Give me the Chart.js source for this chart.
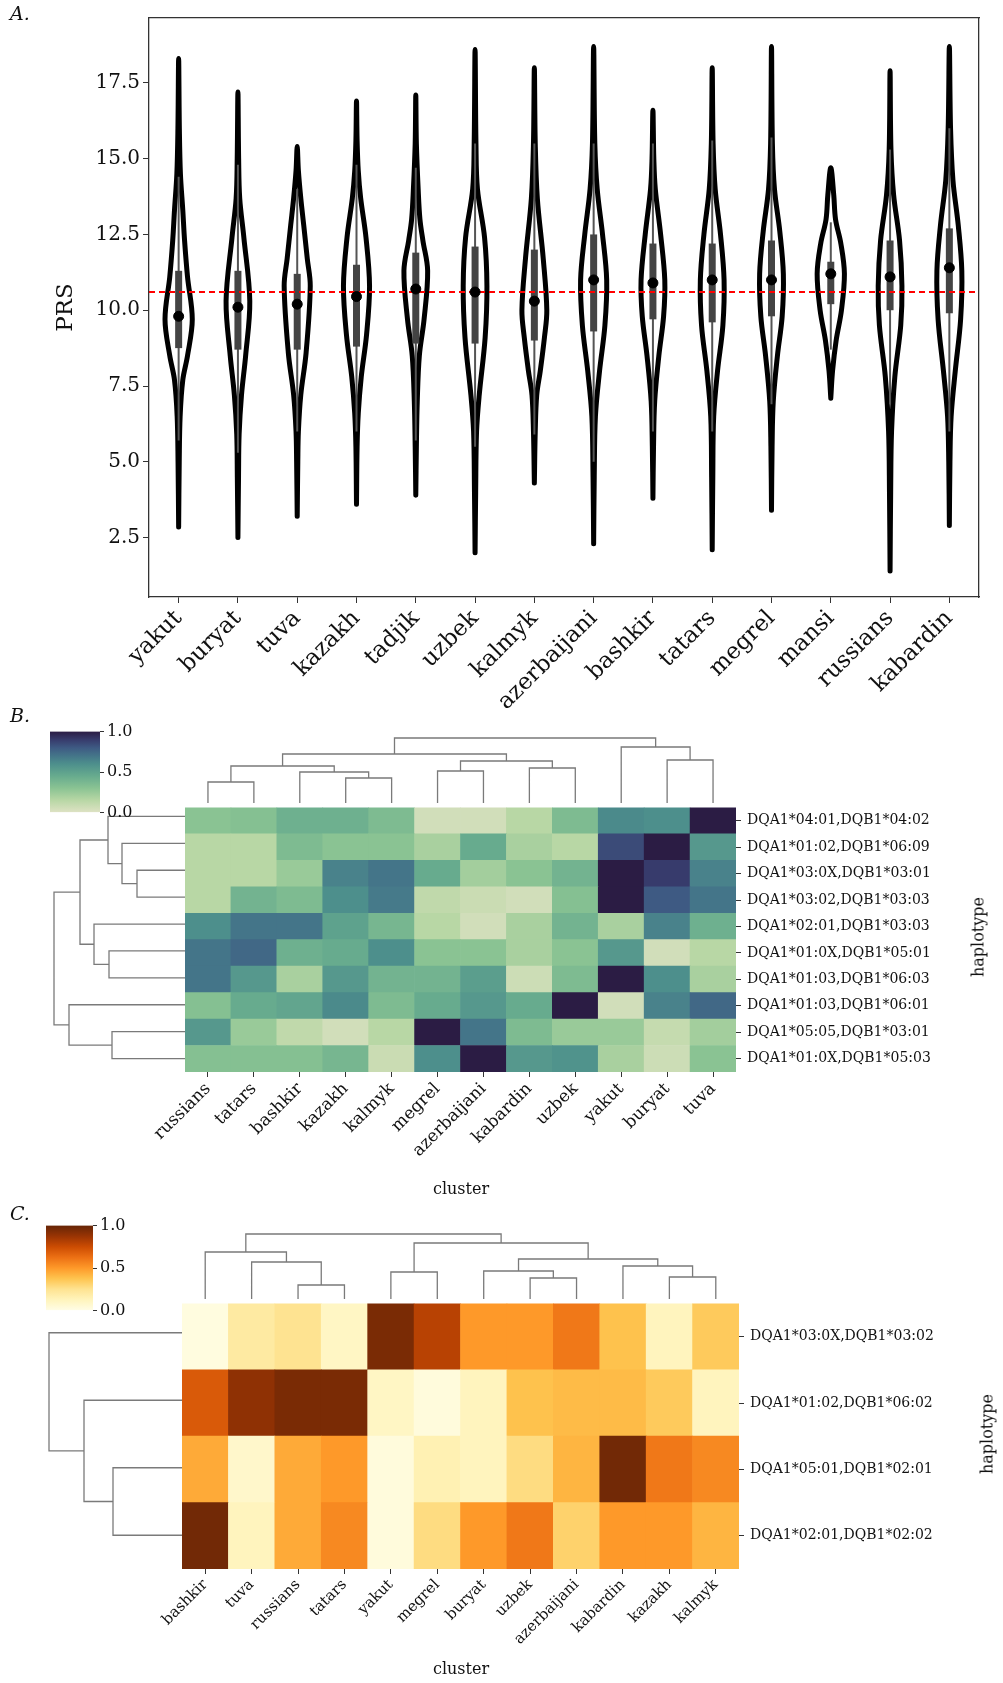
<!DOCTYPE html>
<html>
<head>
<meta charset="utf-8">
<script src="https://cdn.jsdelivr.net/npm/chart.js@4"></script>
<style>
  body { margin: 0; background: #fff; }
  #wrap { position: relative; width: 1003px; height: 1683px; font-family: 'DejaVu Serif', serif; }
  canvas, .txt { position: absolute; }
  .txt { color: #111; white-space: nowrap; }
  .panel { font-style: italic; font-size: 19px; }
</style>
</head>
<body>
<div id="wrap">
  <canvas id="violin" style="left:0;top:0;width:1003px;height:725px" width="1003" height="725"></canvas>

  <canvas id="heatB" style="left:0;top:793px;width:1003px;height:407px" width="1003" height="407"></canvas>
  <canvas id="dendroTopB" style="left:185px;top:733px;width:551px;height:70px" width="551" height="70"></canvas>
  <canvas id="dendroLeftB" style="left:50px;top:803px;width:135px;height:269px" width="135" height="269"></canvas>
  <canvas id="barB" style="left:50px;top:719px;width:100px;height:106px" width="100" height="106"></canvas>

  <canvas id="heatC" style="left:0;top:1289px;width:1003px;height:394px" width="1003" height="394"></canvas>
  <canvas id="dendroTopC" style="left:182px;top:1229px;width:557px;height:70px" width="557" height="70"></canvas>
  <canvas id="dendroLeftC" style="left:40px;top:1299px;width:142px;height:270px" width="142" height="270"></canvas>
  <canvas id="barC" style="left:46px;top:1213px;width:100px;height:110px" width="100" height="110"></canvas>

  <div class="txt panel" style="left:10px;top:2px">A.</div>
  <div class="txt panel" style="left:10px;top:704px">B.</div>
  <div class="txt panel" style="left:10px;top:1202px">C.</div>
  <div class="txt" style="left:978px;top:937px;font-size:16px;transform:translate(-50%,-50%) rotate(-90deg)">haplotype</div>
  <div class="txt" style="left:461px;top:1188px;font-size:16px;transform:translate(-50%,-50%)">cluster</div>
  <div class="txt" style="left:987px;top:1434px;font-size:16px;transform:translate(-50%,-50%) rotate(-90deg)">haplotype</div>
  <div class="txt" style="left:461px;top:1668px;font-size:16px;transform:translate(-50%,-50%)">cluster</div>
</div>
<script>
// ---------- Panel A data ----------
const groups = ['yakut', 'buryat', 'tuva', 'kazakh', 'tadjik', 'uzbek', 'kalmyk',
  'azerbaijani', 'bashkir', 'tatars', 'megrel', 'mansi', 'russians', 'kabardin'];

// violin profile: [PRS value, half width in category units]
const violinProfiles = [
  [[2.85,0],[5,0.01],[6.5,0.025],[7.7,0.07],[8.5,0.15],[9.7,0.23],[11.1,0.15],[12.3,0.1],[13.3,0.07],[14.5,0.03],[16,0.012],[18.3,0]],
  [[2.5,0],[4.5,0.01],[5.9,0.02],[7.2,0.06],[8.5,0.13],[10.3,0.2],[12.4,0.1],[13.7,0.03],[15,0.012],[17.2,0]],
  [[3.2,0],[5,0.01],[6,0.02],[7.2,0.06],[8.6,0.15],[10.8,0.22],[11.7,0.17],[12.8,0.11],[13.7,0.06],[14.6,0.02],[15.4,0]],
  [[3.6,0],[5.5,0.01],[6.6,0.03],[7.8,0.08],[9.2,0.17],[10.8,0.22],[12.4,0.16],[13.7,0.07],[14.6,0.03],[15.6,0.01],[16.9,0]],
  [[3.9,0],[5.5,0.01],[7,0.025],[8.5,0.06],[9.7,0.14],[11.3,0.2],[12.3,0.12],[13,0.07],[14,0.04],[15.5,0.01],[17.1,0]],
  [[2.0,0],[4,0.01],[6,0.025],[7.2,0.07],[9.1,0.17],[10.8,0.2],[12.4,0.16],[14,0.04],[15.5,0.015],[18.6,0]],
  [[4.3,0],[6,0.015],[7.2,0.04],[8,0.1],[9.1,0.17],[10,0.21],[11.7,0.15],[13.7,0.05],[15.5,0.015],[18.0,0]],
  [[2.3,0],[4.5,0.01],[6.5,0.03],[8,0.1],[9.5,0.19],[11,0.22],[12.5,0.15],[14,0.06],[15.5,0.02],[18.7,0]],
  [[3.8,0],[5.5,0.01],[7,0.03],[8.5,0.1],[9.8,0.18],[11,0.2],[12.5,0.13],[14,0.04],[15,0.015],[16.6,0]],
  [[2.1,0],[4.5,0.01],[6.5,0.025],[8,0.09],[9.5,0.18],[11,0.2],[12.5,0.14],[14,0.05],[15.5,0.015],[18.0,0]],
  [[3.4,0],[5.5,0.01],[7,0.03],[8.5,0.1],[9.8,0.18],[11.2,0.2],[12.6,0.14],[14,0.05],[15.5,0.015],[18.7,0]],
  [[7.1,0],[8,0.03],[9,0.09],[10,0.18],[11.2,0.23],[12.2,0.17],[13,0.08],[13.8,0.05],[14.7,0]],
  [[1.4,0],[4,0.01],[6,0.025],[7.8,0.08],[9.5,0.18],[10.8,0.2],[12.3,0.16],[13.8,0.06],[15.3,0.015],[17.9,0]],
  [[2.9,0],[5,0.01],[6.5,0.03],[8,0.1],[9.7,0.19],[11.3,0.21],[12.8,0.15],[14.3,0.06],[16,0.02],[18.7,0]]
];
const whiskerLo = [5.7, 5.3, 6.0, 6.0, 5.7, 5.5, 5.9, 5.0, 6.0, 6.0, 6.9, 8.7, 6.9, 6.0];
const whiskerHi = [14.4, 14.8, 14.0, 14.8, 14.7, 15.5, 15.5, 15.5, 15.5, 15.6, 15.7, 12.9, 15.3, 16.0];
const q1 = [8.75, 8.7, 8.7, 8.8, 8.9, 8.9, 9.0, 9.3, 9.7, 9.6, 9.8, 10.2, 10.0, 9.9];
const medians = [9.8, 10.1, 10.2, 10.45, 10.7, 10.6, 10.3, 11.0, 10.9, 11.0, 11.0, 11.2, 11.1, 11.4];
const q3 = [11.3, 11.3, 11.2, 11.5, 11.9, 12.1, 12.0, 12.5, 12.2, 12.2, 12.3, 11.6, 12.3, 12.7];
const refLine = 10.6;
const yTicksA = [2.5, 5.0, 7.5, 10.0, 12.5, 15.0, 17.5];

// ---------- Panel B data ----------
const colsB = ['russians', 'tatars', 'bashkir', 'kazakh', 'kalmyk', 'megrel', 'azerbaijani',
  'kabardin', 'uzbek', 'yakut', 'buryat', 'tuva'];
const rowsB = ['DQA1*04:01,DQB1*04:02', 'DQA1*01:02,DQB1*06:09', 'DQA1*03:0X,DQB1*03:01',
  'DQA1*03:02,DQB1*03:03', 'DQA1*02:01,DQB1*03:03', 'DQA1*01:0X,DQB1*05:01',
  'DQA1*01:03,DQB1*06:03', 'DQA1*01:03,DQB1*06:01', 'DQA1*05:05,DQB1*03:01',
  'DQA1*01:0X,DQB1*05:03'];
const heatB = [
  [0.30, 0.32, 0.42, 0.42, 0.35, 0.05, 0.05, 0.15, 0.35, 0.62, 0.60, 1.00],
  [0.15, 0.15, 0.35, 0.30, 0.30, 0.20, 0.45, 0.20, 0.15, 0.85, 1.00, 0.55],
  [0.15, 0.15, 0.25, 0.65, 0.70, 0.45, 0.22, 0.30, 0.40, 1.00, 0.90, 0.65],
  [0.15, 0.40, 0.35, 0.60, 0.68, 0.12, 0.08, 0.05, 0.32, 1.00, 0.80, 0.70],
  [0.60, 0.70, 0.70, 0.50, 0.38, 0.15, 0.05, 0.20, 0.40, 0.20, 0.65, 0.42],
  [0.70, 0.75, 0.42, 0.45, 0.60, 0.30, 0.30, 0.20, 0.30, 0.55, 0.05, 0.15],
  [0.70, 0.55, 0.20, 0.55, 0.40, 0.40, 0.52, 0.07, 0.35, 1.00, 0.60, 0.20],
  [0.32, 0.45, 0.48, 0.62, 0.35, 0.45, 0.55, 0.45, 1.00, 0.05, 0.65, 0.75],
  [0.55, 0.25, 0.12, 0.05, 0.15, 1.00, 0.70, 0.35, 0.25, 0.25, 0.10, 0.22],
  [0.32, 0.32, 0.32, 0.38, 0.08, 0.60, 1.00, 0.55, 0.58, 0.20, 0.07, 0.30]
];
// dendrogram links: [left leaf pos, right leaf pos, left height, right height, top height]
const linksTopB = [
  [0.5, 1.5, 0, 0, 21], [3.5, 4.5, 0, 0, 25], [2.5, 4.0, 0, 25, 31], [1.0, 3.25, 21, 31, 37],
  [5.5, 6.5, 0, 0, 32], [7.5, 8.5, 0, 0, 35], [6.0, 8.0, 32, 35, 42], [2.125, 7.0, 37, 42, 49],
  [10.5, 11.5, 0, 0, 43], [9.5, 11.0, 0, 43, 56], [4.5625, 10.25, 49, 56, 65]
];
const linksLeftB = [
  [2.5, 3.5, 0, 0, 48], [1.5, 3.0, 0, 48, 63], [0.5, 2.25, 0, 63, 77],
  [5.5, 6.5, 0, 0, 76], [4.5, 6.0, 0, 76, 91], [1.375, 5.25, 77, 91, 105],
  [8.5, 9.5, 0, 0, 73], [7.5, 9.0, 0, 73, 116], [3.3125, 8.25, 105, 116, 131]
];

// ---------- Panel C data ----------
const colsC = ['bashkir', 'tuva', 'russians', 'tatars', 'yakut', 'megrel', 'buryat', 'uzbek',
  'azerbaijani', 'kabardin', 'kazakh', 'kalmyk'];
const rowsC = ['DQA1*03:0X,DQB1*03:02', 'DQA1*01:02,DQB1*06:02', 'DQA1*05:01,DQB1*02:01',
  'DQA1*02:01,DQB1*02:02'];
const heatC = [
  [0.02, 0.20, 0.25, 0.10, 0.95, 0.80, 0.50, 0.50, 0.60, 0.38, 0.12, 0.35],
  [0.70, 0.90, 0.95, 0.95, 0.10, 0.03, 0.12, 0.38, 0.40, 0.40, 0.35, 0.12],
  [0.45, 0.08, 0.45, 0.50, 0.03, 0.15, 0.12, 0.28, 0.42, 0.97, 0.60, 0.55],
  [0.97, 0.12, 0.45, 0.55, 0.03, 0.28, 0.50, 0.60, 0.32, 0.50, 0.50, 0.42]
];
const linksTopC = [
  [2.5, 3.5, 0, 0, 14], [1.5, 3.0, 0, 14, 37], [0.5, 2.25, 0, 37, 47],
  [4.5, 5.5, 0, 0, 27], [7.5, 8.5, 0, 0, 21], [6.5, 8.0, 0, 21, 28],
  [10.5, 11.5, 0, 0, 22], [9.5, 11.0, 0, 22, 33], [7.25, 10.25, 28, 33, 40],
  [5.0, 8.75, 27, 40, 56], [1.375, 6.875, 47, 56, 65]
];
const linksLeftC = [[2.5, 3.5, 0, 0, 69], [1.5, 3.0, 0, 69, 98], [0.5, 2.25, 0, 98, 133]];
const cbarTicks = [0, 0.5, 1.0];

// ---------- colour maps ----------
const cmapB = [[0, '#dee2c4'], [0.15, '#b8d7a5'], [0.3, '#8ac393'], [0.45, '#67ab8e'], [0.6, '#4d8f8c'],
  [0.7, '#447589'], [0.8, '#3e5a83'], [0.9, '#373b6c'], [1, '#2b1c44']];
const cmapC = [[0, '#fffde6'], [0.125, '#fff4bc'], [0.25, '#fee391'], [0.375, '#fec44f'], [0.5, '#fe9929'],
  [0.625, '#ec7014'], [0.75, '#cc4c02'], [0.875, '#993404'], [1, '#662506']];

function hexRgb(h) { return [1, 3, 5].map(i => parseInt(h.substr(i, 2), 16)); }
function colorAt(cmap, v) {
  for (let i = 1; i < cmap.length; i++) {
    if (v <= cmap[i][0]) {
      const t = (v - cmap[i - 1][0]) / (cmap[i][0] - cmap[i - 1][0]);
      const a = hexRgb(cmap[i - 1][1]), b = hexRgb(cmap[i][1]);
      return `rgb(${a.map((c, k) => Math.round(c + (b[k] - c) * t)).join(',')})`;
    }
  }
  return cmap[cmap.length - 1][1];
}

const serif = 'DejaVu Serif';
Chart.defaults.font.family = serif;
Chart.defaults.color = '#111';
Chart.defaults.animation = false;
Chart.defaults.plugins.legend.display = false;
Chart.defaults.plugins.tooltip.enabled = false;

// ---------- Panel A: violins ----------
const violinSets = [];
groups.forEach((g, i) => {
  const prof = violinProfiles[i];
  const right = prof.map(p => ({ x: i + p[1], y: p[0] }));
  const left = prof.slice(0, -1).reverse().map(p => ({ x: i - p[1], y: p[0] }));
  violinSets.push({ data: right.concat(left), showLine: true, borderColor: '#000', borderWidth: 5,
    pointRadius: 0, tension: 0.35, borderCapStyle: 'round', borderJoinStyle: 'round', order: 5 });
  violinSets.push({ data: [{ x: i, y: whiskerLo[i] }, { x: i, y: whiskerHi[i] }], showLine: true,
    borderColor: '#555', borderWidth: 2, pointRadius: 0, order: 4 });
  violinSets.push({ data: [{ x: i, y: q1[i] }, { x: i, y: q3[i] }], showLine: true,
    borderColor: '#444', borderWidth: 7, borderCapStyle: 'butt', pointRadius: 0, order: 3 });
});
violinSets.push({ data: [{ x: -0.5, y: refLine }, { x: 13.5, y: refLine }], showLine: true,
  borderColor: '#ff0000', borderWidth: 2, borderDash: [6, 4], pointRadius: 0, order: 1 });
violinSets.push({ data: medians.map((m, i) => ({ x: i, y: m })), showLine: false,
  backgroundColor: '#000', borderColor: '#000', pointRadius: 5, order: 0 });

const frame = { display: true, color: '#333', width: 1.3 };
new Chart(document.getElementById('violin'), {
  type: 'scatter',
  data: { datasets: violinSets },
  options: {
    responsive: false,
    layout: { padding: { left: 50, top: 18, right: 24, bottom: 0 } },
    scales: {
      x: {
        type: 'linear', min: -0.5, max: 13.5,
        afterBuildTicks: ax => { ax.ticks = groups.map((g, i) => ({ value: i })); },
        afterFit: ax => { ax.height = 128; },
        ticks: { callback: v => groups[v], maxRotation: 45, minRotation: 45, autoSkip: false,
          font: { size: 23 }, padding: 2 },
        grid: { drawOnChartArea: false, tickLength: 6, color: '#333' },
        border: frame
      },
      y: {
        min: 0.54, max: 19.64,
        afterBuildTicks: ax => { ax.ticks = yTicksA.map(v => ({ value: v })); },
        afterFit: ax => { ax.width = 99; },
        ticks: { callback: v => v.toFixed(1), font: { size: 20 } },
        grid: { drawOnChartArea: false, tickLength: 6, color: '#333' },
        border: frame,
        title: { display: true, text: 'PRS', font: { size: 23 }, padding: 2 }
      },
      x2: { type: 'linear', position: 'top', min: 0, max: 1, ticks: { display: false },
        grid: { drawOnChartArea: false, drawTicks: false }, border: frame, afterFit: ax => { ax.height = 0; } },
      y2: { type: 'linear', position: 'right', min: 0, max: 1, ticks: { display: false },
        grid: { drawOnChartArea: false, drawTicks: false }, border: frame, afterFit: ax => { ax.width = 0; } }
    }
  }
});

// ---------- heatmaps ----------
function heatmap(id, cols, rows, values, cmap, padLeft, yWidth, xHeight, xFont) {
  const datasets = rows.map((r, ri) => ({
    label: r,
    data: cols.map(() => 1),
    backgroundColor: values[ri].map(v => colorAt(cmap, v)),
    borderWidth: 0,
    categoryPercentage: 1, barPercentage: 1
  })).reverse();
  const n = rows.length;
  new Chart(document.getElementById(id), {
    type: 'bar',
    data: { labels: cols, datasets },
    options: {
      responsive: false,
      layout: { padding: { left: padLeft, top: 10, right: 0, bottom: 0 } },
      scales: {
        x: {
          stacked: true,
          afterFit: ax => { ax.height = xHeight; },
          ticks: { maxRotation: 45, minRotation: 45, autoSkip: false, font: { size: xFont }, padding: 2 },
          grid: { display: true, drawOnChartArea: false, tickLength: 5, color: '#333', offset: false },
          border: { display: false }
        },
        y: {
          stacked: true, position: 'right', min: 0, max: n,
          afterBuildTicks: ax => { ax.ticks = rows.map((r, i) => ({ value: i + 0.5 })); },
          afterFit: ax => { ax.width = yWidth; },
          ticks: { callback: v => rows[n - 1 - Math.floor(v)], font: { size: 14 }, padding: 6 },
          grid: { drawOnChartArea: false, tickLength: 5, color: '#333' },
          border: { display: false }
        }
      }
    }
  });
}
heatmap('heatB', colsB, rowsB, heatB, cmapB, 185, 267, 128, 17);
heatmap('heatC', colsC, rowsC, heatC, cmapC, 182, 264, 114, 15);

// ---------- dendrograms ----------
function dendro(id, links, horizontal, maxLeaf, maxH) {
  const pts = [];
  links.forEach(([xl, xr, hl, hr, ht]) => {
    [[xl, hl], [xl, ht], [xr, ht], [xr, hr]].forEach(([p, h]) => {
      pts.push(horizontal ? { x: p, y: h } : { x: h, y: p });
    });
    pts.push({ x: null, y: null });
  });
  const leafAx = { type: 'linear', display: false, min: 0, max: maxLeaf, reverse: !horizontal };
  const hAx = { type: 'linear', display: false, min: 0, max: maxH, reverse: !horizontal };
  new Chart(document.getElementById(id), {
    type: 'scatter',
    data: { datasets: [{ data: pts, showLine: true, spanGaps: false, borderColor: '#7a7a7a',
      borderWidth: 1.3, pointRadius: 0, clip: false }] },
    options: {
      responsive: false,
      layout: { padding: 0 },
      scales: horizontal ? { x: leafAx, y: hAx } : { x: hAx, y: leafAx }
    }
  });
}
dendro('dendroTopB', linksTopB, true, 12, 70);
dendro('dendroLeftB', linksLeftB, false, 10, 135);
dendro('dendroTopC', linksTopC, true, 12, 70);
dendro('dendroLeftC', linksLeftC, false, 4, 142);

// ---------- colour bars ----------
function colorbar(id, cmap, barWidth) {
  new Chart(document.getElementById(id), {
    type: 'bar',
    data: { labels: [''], datasets: [{ data: [1], borderWidth: 0, categoryPercentage: 1, barPercentage: 1,
      backgroundColor: ctx => {
        const area = ctx.chart.chartArea;
        if (!area) return cmap[0][1];
        const g = ctx.chart.ctx.createLinearGradient(0, area.bottom, 0, area.top);
        cmap.forEach(([s, c]) => g.addColorStop(s, c));
        return g;
      } }] },
    options: {
      responsive: false,
      layout: { padding: { top: 10, bottom: 10, left: 0, right: 0 } },
      scales: {
        x: { display: false },
        y: {
          position: 'right', min: 0, max: 1,
          afterBuildTicks: ax => { ax.ticks = cbarTicks.map(v => ({ value: v })); },
          afterFit: ax => { ax.width = 100 - barWidth; },
          ticks: { callback: v => v.toFixed(1), font: { size: 16 }, padding: 3 },
          grid: { drawOnChartArea: false, tickLength: 4, color: '#333' },
          border: { display: false }
        }
      }
    }
  });
}
colorbar('barB', cmapB, 50);
colorbar('barC', cmapC, 47);
</script>
</body>
</html>
